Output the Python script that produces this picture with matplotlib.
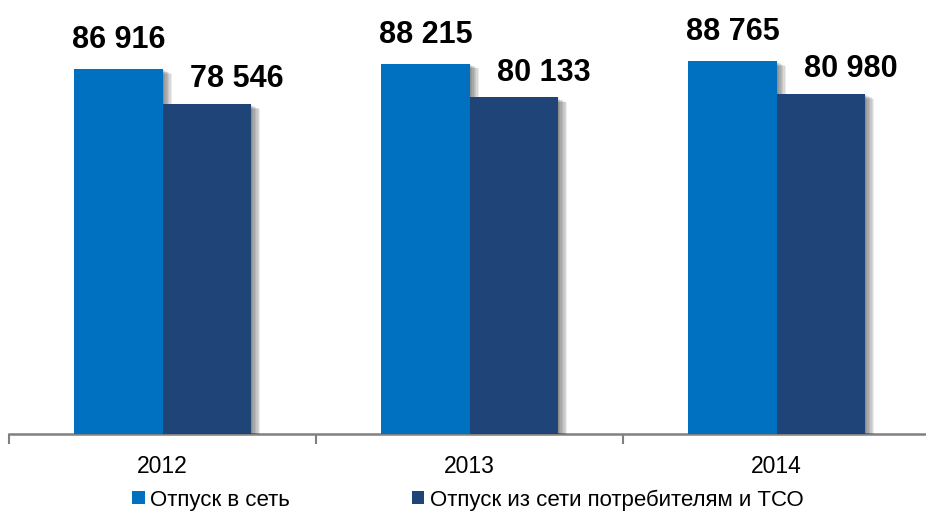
import matplotlib.pyplot as plt
import matplotlib.patheffects as pe
from matplotlib.patches import Patch
import numpy as np

years = ['2012', '2013', '2014']
otpusk_v_set = [86916, 88215, 88765]
otpusk_iz_seti = [78546, 80133, 80980]
labels = ['Отпуск в сеть', 'Отпуск из сети потребителям и ТСО']
colors = ['#0070C0', '#1F4478']

plt.rcParams['font.family'] = ['Liberation Sans', 'DejaVu Sans']


def fmt(v):
    return '{:,}'.format(v).replace(',', ' ')


fig = plt.figure(figsize=(9.26, 5.15), dpi=100)
ax = fig.add_axes([9 / 926, 1 - 434 / 515, 921 / 926, 434 / 515])

x = np.arange(len(years))
w = 0.287
shadow = [pe.SimplePatchShadow(offset=(k, -k * 0.5), shadow_rgbFace='#000000', alpha=0.08) for k in range(7, 0, -1)]
shadow.append(pe.Normal())

b1 = ax.bar(x - w / 2, otpusk_v_set, w, color=colors[0], zorder=3, path_effects=shadow)
b2 = ax.bar(x + w / 2, otpusk_iz_seti, w, color=colors[1], zorder=4, path_effects=shadow)

for i in range(len(years)):
    ax.annotate(fmt(otpusk_v_set[i]), (x[i] - w / 2, otpusk_v_set[i]), xytext=(0, 15),
                textcoords='offset points', ha='center', va='baseline',
                fontsize=22, fontweight='bold', zorder=5)
    ax.annotate(fmt(otpusk_iz_seti[i]), (x[i] + w / 2, otpusk_iz_seti[i]), xytext=(22, 12),
                textcoords='offset points', ha='center', va='baseline',
                fontsize=22, fontweight='bold', zorder=5)

ax.set_xlim(-0.5, 2.5)
ax.set_ylim(0, 103350)
for s in ['top', 'right', 'left']:
    ax.spines[s].set_visible(False)
ax.spines['bottom'].set_color('#808080')
ax.spines['bottom'].set_linewidth(1.8)
ax.set_yticks([])
ax.set_xticks(x)
ax.set_xticklabels(years, fontsize=16.5)
ax.tick_params(axis='x', which='major', length=0, pad=15)
ax.set_xticks([-0.5, 0.5, 1.5, 2.5], minor=True)
ax.tick_params(axis='x', which='minor', length=7, width=1.5, color='#808080')

handles = [Patch(facecolor=c, edgecolor='none') for c in colors]
fig.legend(handles, labels, loc='center', bbox_to_anchor=(468 / 926, 1 - 500 / 515), ncol=2,
           frameon=False, fontsize=16, handlelength=0.55, handleheight=0.55,
           handletextpad=0.25, columnspacing=5.5, borderpad=0)

fig.savefig('out.png', dpi=100)
